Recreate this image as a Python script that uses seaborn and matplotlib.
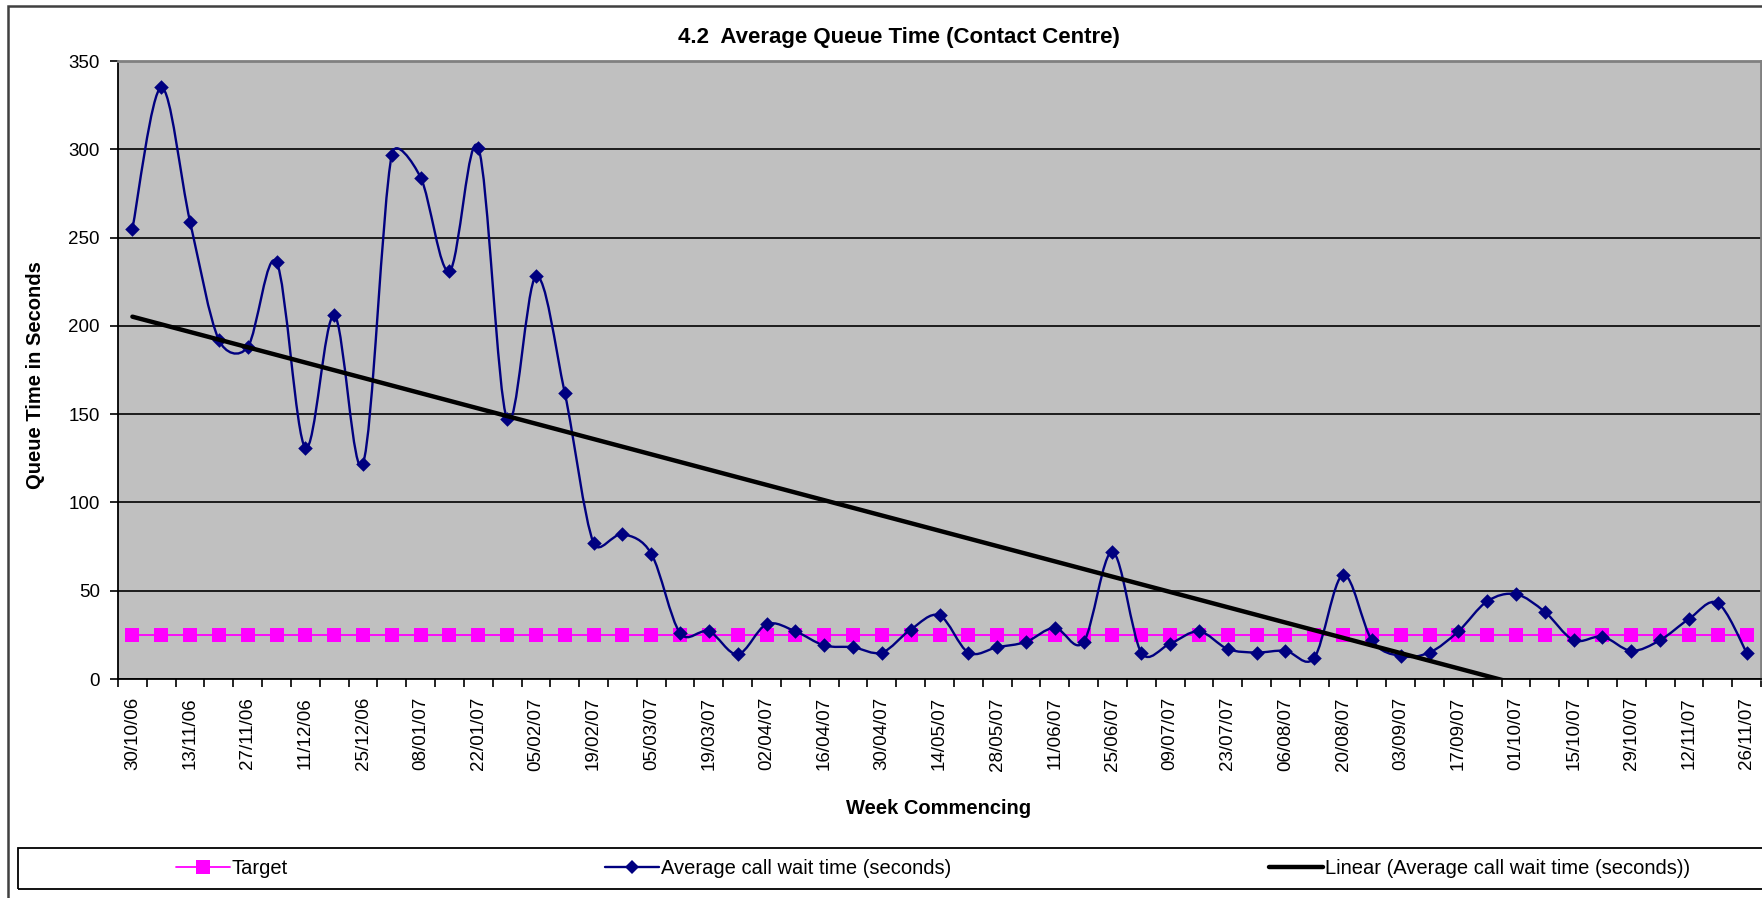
import numpy as np
import pandas as pd
import matplotlib
matplotlib.use("Agg")
import matplotlib.pyplot as plt
import seaborn as sns
from matplotlib.path import Path
from matplotlib.patches import PathPatch, Rectangle
from matplotlib.lines import Line2D

# ---- data ----
tick_labels = ["30/10/06", "13/11/06", "27/11/06", "11/12/06", "25/12/06", "08/01/07",
               "22/01/07", "05/02/07", "19/02/07", "05/03/07", "19/03/07", "02/04/07",
               "16/04/07", "30/04/07", "14/05/07", "28/05/07", "11/06/07", "25/06/07",
               "09/07/07", "23/07/07", "06/08/07", "20/08/07", "03/09/07", "17/09/07",
               "01/10/07", "15/10/07", "29/10/07", "12/11/07", "26/11/07"]
wait_time = [255, 335, 259, 192, 188, 236, 131, 206, 122, 297, 284, 231, 301, 147, 228, 162, 77, 82, 71, 26,
             27, 14, 31, 27, 19, 18, 15, 28, 36, 15, 18, 21, 29, 21, 72, 15, 20, 27,
             17, 15, 16, 12, 59, 22, 13, 15, 27, 44, 48, 38, 22, 24, 16, 22, 34, 43, 15]
target_value = 25
series_names = ["Target", "Average call wait time (seconds)",
                "Linear (Average call wait time (seconds))"]

sns.set_theme(style="white", rc={"text.color": "black", "axes.labelcolor": "black",
                                 "xtick.color": "black", "ytick.color": "black"})
plt.rcParams["font.family"] = ["Liberation Sans", "DejaVu Sans"]

W, H = 1762, 898
AX_L, AX_R, AX_T, AX_B = 118, 1761, 61, 679
fig = plt.figure(figsize=(W / 100, H / 100), dpi=100, facecolor="white")
ax = fig.add_axes([AX_L / W, 1 - AX_B / H, (AX_R - AX_L) / W, (AX_B - AX_T) / H])
ax.set_facecolor("#C0C0C0")

n = len(wait_time)
idx = np.arange(n)
df = pd.DataFrame({"week": idx, "wait": wait_time, "target": [target_value] * n})

NAVY = "#000080"
MAG = "#FF00FF"
YMAX = 350

# target series
sns.lineplot(data=df, x="week", y="target", color=MAG, lw=1.3, marker="s",
             markersize=10.4, markeredgewidth=0, ax=ax, zorder=3)

# smoothed line (Excel-style Bezier through the data points, computed in display space)
sx = (AX_R - AX_L) / n
sy = (AX_B - AX_T) / YMAX
pts = np.column_stack([idx * sx, np.asarray(wait_time, float) * sy])
verts = [pts[0]]
codes = [Path.MOVETO]
for i in range(n - 1):
    p0 = pts[max(i - 1, 0)]
    p1 = pts[i]
    p2 = pts[i + 1]
    p3 = pts[min(i + 2, n - 1)]
    d02 = np.hypot(*(p2 - p0))
    d12 = np.hypot(*(p2 - p1))
    d13 = np.hypot(*(p3 - p1))
    f1 = 1 / 6 if (d02 / 6 < d12 / 2 or d02 == 0) else d12 / d02 / 2
    f2 = 1 / 6 if (d13 / 6 < d12 / 2 or d13 == 0) else d12 / d13 / 2
    c1 = p1 + (p2 - p0) * f1
    c2 = p2 - (p3 - p1) * f2
    verts += [c1, c2, p2]
    codes += [Path.CURVE4] * 3
verts = np.array(verts) / np.array([sx, sy])
ax.add_patch(PathPatch(Path(verts, codes), fill=False, edgecolor=NAVY, lw=1.7, zorder=4))
sns.scatterplot(data=df, x="week", y="wait", marker="D", s=55, color=NAVY,
                edgecolor=NAVY, linewidth=0, ax=ax, zorder=5)

# linear trend
sns.regplot(data=df, x="week", y="wait", scatter=False, ci=None, truncate=True,
            line_kws=dict(color="black", lw=3.2, zorder=6), ax=ax)

ax.set_xlim(-0.5, n - 0.5)
ax.set_ylim(0, YMAX)
ax.set_xlabel("")
ax.set_ylabel("")

# y axis
ax.set_yticks(range(0, YMAX + 1, 50))
ax.yaxis.grid(True, color="black", lw=1.2)
ax.xaxis.grid(False)
ax.set_axisbelow(True)
ax.tick_params(axis="y", which="major", left=True, direction="out", length=6, width=1.2,
               labelsize=13.5, pad=7)

# x axis: ticks at category boundaries, labels every other category
ax.set_xticks(np.arange(-0.5, n, 1.0))
ax.set_xticklabels([])
ax.set_xticks(np.arange(0, n, 2), minor=True)
ax.set_xticklabels(tick_labels, minor=True, rotation=90)
ax.tick_params(axis="x", which="major", bottom=True, direction="out", length=6, width=1.2)
ax.tick_params(axis="x", which="minor", bottom=True, length=0, labelsize=13.5, pad=13)

for s in ["left", "bottom"]:
    ax.spines[s].set_color("black")
    ax.spines[s].set_linewidth(1.3)
for s in ["top", "right"]:
    ax.spines[s].set_color("#808080")
    ax.spines[s].set_linewidth(2)

# texts
fig.text(899 / W, 1 - 37 / H, "4.2  Average Queue Time (Contact Centre)", ha="center",
         va="center", fontsize=16, fontweight="bold")
fig.text(36 / W, 1 - 375 / H, "Queue Time in Seconds", rotation=90, ha="center",
         va="center", fontsize=14.5, fontweight="bold")
fig.text(939 / W, 1 - 808 / H, "Week Commencing", ha="center", va="center",
         fontsize=14.5, fontweight="bold")

# legend
h1 = Line2D([], [], color=MAG, lw=1.3, marker="s", ms=10.4, mew=0)
h2 = Line2D([], [], color=NAVY, lw=1.7, marker="D", ms=7.4, mew=0)
h3 = Line2D([], [], color="black", lw=3.2)
fig.legend([h1, h2, h3], series_names, loc="center",
           bbox_to_anchor=(176 / W, 1 - 889 / H, (1690 - 176) / W, 41 / H),
           mode="expand", ncol=3, frameon=False, borderpad=0, borderaxespad=0,
           handlelength=2.68, handletextpad=0.1, fontsize=14.5, numpoints=1)

fig.add_artist(Rectangle((17.7 / W, 1 - 889.3 / H), 1.05, 41.6 / H, transform=fig.transFigure,
                         fill=False, ec="black", lw=1.3))
fig.add_artist(Rectangle((8 / W, -0.02), 1.05, 1 - 6 / H + 0.02, transform=fig.transFigure,
                         fill=False, ec="#404040", lw=1.8))

fig.savefig("out.png", dpi=100, facecolor="white")
